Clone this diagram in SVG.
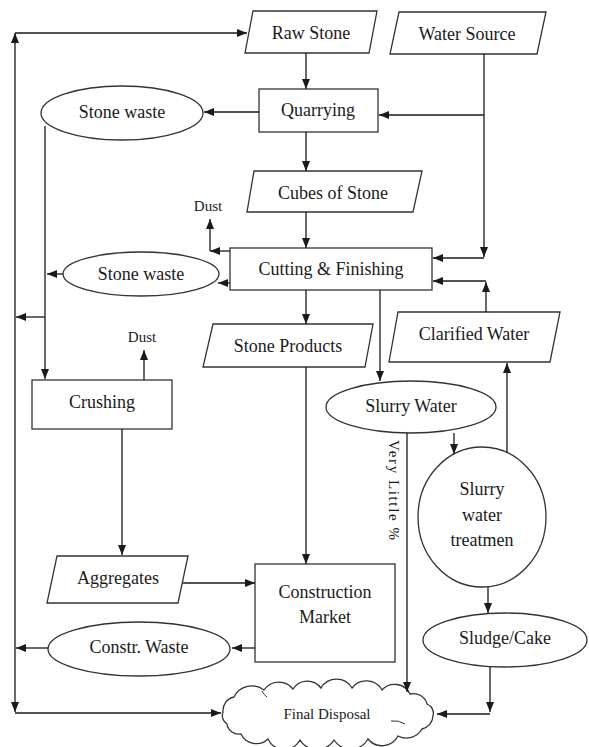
<svg xmlns="http://www.w3.org/2000/svg" width="589" height="747" viewBox="0 0 589 747">
<defs>
<marker id="ah" markerWidth="10" markerHeight="8" refX="10" refY="4" orient="auto-start-reverse" markerUnits="userSpaceOnUse">
<path d="M0,0 L10,4 L0,8 Z" fill="#1a1a1a"/>
</marker>
</defs>
<style>
.sh{fill:#fff;stroke:#333;stroke-width:1.3}
text{font-family:'Liberation Serif','Times New Roman','DejaVu Serif',serif;font-size:18px;fill:#1a1a1a;text-anchor:middle;dominant-baseline:central}
text.s{font-size:15px}
.c line{stroke:#1a1a1a;stroke-width:1.3;fill:none}
</style>
<rect width="589" height="747" fill="#fff"/>
<g id="raw-stone"><polygon class="sh" points="253,11 377,11 369,53 245,53"/><text x="311" y="33">Raw Stone</text></g>
<g id="water-source"><polygon class="sh" points="399,12 546,12 537,54 390,54"/><text x="467" y="34">Water Source</text></g>
<g id="quarrying"><rect class="sh" x="259" y="89" width="119" height="43"/><text x="318" y="110">Quarrying</text></g>
<g id="stone-waste-1"><ellipse class="sh" cx="122" cy="113" rx="81" ry="27"/><text x="122" y="112">Stone waste</text></g>
<g id="cubes"><polygon class="sh" points="254,171 422,171 413,212 247,212"/><text x="333" y="193">Cubes of Stone</text></g>
<g id="dust-1"><text class="s" x="208" y="206">Dust</text></g>
<g id="cutting"><rect class="sh" x="230" y="248" width="202" height="42"/><text x="331" y="269">Cutting &amp; Finishing</text></g>
<g id="stone-waste-2"><ellipse class="sh" cx="141" cy="274" rx="78" ry="22"/><text x="141" y="274">Stone waste</text></g>
<g id="clarified"><polygon class="sh" points="398,312 560,312 550,362 389,362"/><text x="474" y="334">Clarified Water</text></g>
<g id="dust-2"><text class="s" x="142" y="337">Dust</text></g>
<g id="stone-products"><polygon class="sh" points="213,324 373,324 365,367 203,367"/><text x="288" y="346">Stone Products</text></g>
<g id="crushing"><rect class="sh" x="32" y="380" width="140" height="49"/><text x="102" y="402">Crushing</text></g>
<g id="slurry-water"><ellipse class="sh" cx="411" cy="407" rx="85" ry="26"/><text x="411" y="406">Slurry Water</text></g>
<g id="treatment"><ellipse class="sh" cx="482" cy="517" rx="64" ry="70"/><text x="482" y="489">Slurry</text><text x="482" y="515">water</text><text x="482" y="540">treatmen</text></g>
<g id="aggregates"><polygon class="sh" points="57,556 188,556 178,603 47,603"/><text x="118" y="578">Aggregates</text></g>
<g id="construction"><rect class="sh" x="255" y="564" width="140" height="98"/><text x="325" y="592">Construction</text><text x="325" y="617">Market</text></g>
<g id="sludge"><ellipse class="sh" cx="505" cy="640" rx="82" ry="27"/><text x="505" y="638">Sludge/Cake</text></g>
<g id="constr-waste"><ellipse class="sh" cx="139" cy="649" rx="91" ry="27"/><text x="139" y="647">Constr. Waste</text></g>
<g id="final-disposal">
<path class="sh" d="M223,712 A14,14 0 0 1 234,697 A20,20 0 0 1 264,690 A18,18 0 0 1 293,689 A17,17 0 0 1 321,688 A18,18 0 0 1 352,688 A18,18 0 0 1 382,690 A17,17 0 0 1 410,694 A14,14 0 0 1 427,704 A10,10 0 0 1 433,716 A14,14 0 0 1 422,729 A18,18 0 0 1 398,736 A18,18 0 0 1 368,739 A20,20 0 0 1 334,740 A20,20 0 0 1 300,740 A18,18 0 0 1 268,739 A17,17 0 0 1 241,734 A12,12 0 0 1 227,724 A10,10 0 0 1 223,712 Z"/>
<path d="M391,721 q8,-1 14,3 M262,691 q2,4 5,6" fill="none" stroke="#333" stroke-width="1"/>
<text class="s" x="327" y="714">Final Disposal</text>
</g>
<g id="label-very-little"><text class="s" transform="translate(394,490) rotate(90)" x="0" y="0" textLength="100" lengthAdjust="spacing">Very Little %</text></g>
<g id="connectors" class="c" marker-end="url(#ah)">
<line x1="15" y1="712" x2="15" y2="33" marker-start="url(#ah)"/>
<line x1="15" y1="33" x2="247" y2="33"/>
<line x1="15" y1="713" x2="221" y2="713"/>
<line x1="306" y1="53" x2="306" y2="89"/>
<line x1="484" y1="54" x2="484" y2="257"/>
<line x1="484" y1="258" x2="433" y2="258"/>
<line x1="484" y1="115" x2="379" y2="115"/>
<line x1="259" y1="112" x2="204" y2="112"/>
<line x1="306" y1="132" x2="306" y2="171"/>
<line x1="306" y1="212" x2="306" y2="248"/>
<line x1="230" y1="251" x2="210" y2="251"/>
<line x1="210" y1="251" x2="210" y2="219"/>
<line x1="230" y1="283" x2="218" y2="283"/>
<line x1="45" y1="126" x2="45" y2="379"/>
<line x1="63" y1="274" x2="47" y2="274"/>
<line x1="45" y1="317" x2="16" y2="317"/>
<line x1="144" y1="380" x2="144" y2="350"/>
<line x1="122" y1="429" x2="122" y2="555"/>
<line x1="183" y1="583" x2="255" y2="583"/>
<line x1="306" y1="290" x2="306" y2="324"/>
<line x1="306" y1="367" x2="306" y2="564"/>
<line x1="380" y1="290" x2="380" y2="381"/>
<line x1="454" y1="433" x2="454" y2="454"/>
<line x1="507" y1="453" x2="507" y2="363"/>
<line x1="486" y1="312" x2="486" y2="282"/>
<line x1="486" y1="281" x2="433" y2="281"/>
<line x1="488" y1="587" x2="488" y2="613"/>
<line x1="490" y1="667" x2="490" y2="712"/>
<line x1="490" y1="714" x2="437" y2="714"/>
<line x1="407" y1="433" x2="407" y2="692"/>
<line x1="255" y1="648" x2="232" y2="648"/>
<line x1="48" y1="648" x2="16" y2="648"/>
</g>
</svg>
